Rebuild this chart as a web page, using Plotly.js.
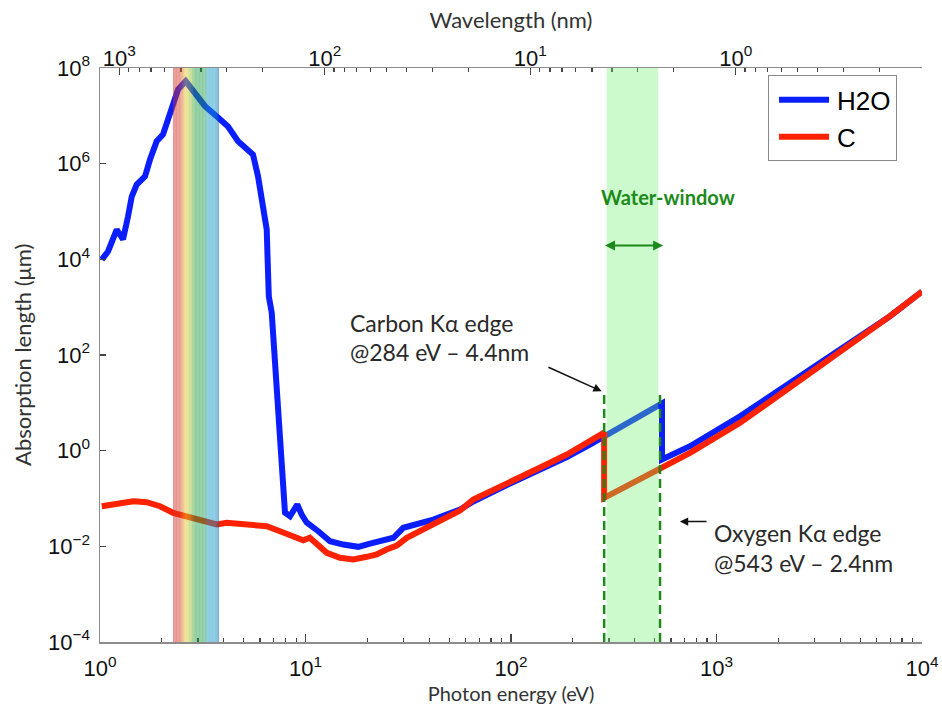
<!DOCTYPE html>
<html>
<head>
<meta charset="utf-8">
<script src="https://cdn.plot.ly/plotly-3.0.1.min.js"></script>
<style>html,body{margin:0;padding:0;background:#fff;}#chart{width:942px;height:709px;}</style>
</head>
<body>
<div id="chart"></div>
<script>
// ---------- data ----------
const h2oEnergy = [1.02, 1.094, 1.206, 1.294, 1.369, 1.427, 1.509, 1.656, 1.751, 1.888, 2.026, 2.112, 2.234, 2.397, 2.612, 2.900, 3.243, 3.752, 4.197, 4.694, 5.175, 5.553, 5.873, 6.212, 6.476, 6.535, 6.63, 6.848, 7.243, 7.515, 7.66, 7.728, 7.946, 8.41, 9.12, 9.58, 10.13, 11.54, 13.16, 15.28, 18.07, 20.6, 23.9, 26.8, 29.9, 34.8, 41.9, 56.5, 65.5, 95.3, 138, 187, 242, 284, 292, 424, 543, 543, 743, 1302, 2279, 3990, 6983, 10000];
const h2oLength = [9.9e3, 1.46e4, 4.2e4, 2.6e4, 7.85e4, 2.06e5, 3.66e5, 5.39e5, 1.22e6, 2.95e6, 4.07e6, 7.26e6, 1.59e7, 3.55e7, 5.3e7, 2.79e7, 1.59e7, 9.23e6, 5.98e6, 2.95e6, 1.98e6, 1.55e6, 5.47e5, 1.54e5, 4.2e4, 1.15e4, 1.67e3, 773, 19.0, 1.98, 0.288, 0.111, 0.0509, 0.0426, 0.0748, 0.0462, 0.0315, 0.0207, 0.0128, 0.0109, 0.00977, 0.0114, 0.0134, 0.0151, 0.0244, 0.0286, 0.0363, 0.0588, 0.0865, 0.191, 0.394, 0.736, 1.34, 1.98, 2.0, 5.25, 9.68, 0.653, 1.24, 5.25, 26.2, 130, 647, 2120];

const cEnergy = [1.02, 1.206, 1.452, 1.688, 1.959, 2.274, 2.642, 3.066, 3.698, 4.136, 5.37, 6.476, 7.515, 8.72, 9.75, 10.5, 11.34, 12.69, 14.72, 17.09, 19.85, 22.2, 24.8, 27.8, 31.1, 36.1, 45.1, 56.5, 65.5, 95.3, 138, 187, 242, 284, 284, 531, 743, 1302, 2279, 3990, 6983, 10000];
const cLength = [0.0689, 0.0748, 0.0877, 0.0836, 0.0689, 0.0501, 0.0414, 0.0352, 0.0286, 0.031, 0.0286, 0.0263, 0.0207, 0.0163, 0.0134, 0.0151, 0.0109, 0.00731, 0.00575, 0.0053, 0.00604, 0.00674, 0.00857, 0.0104, 0.0151, 0.0207, 0.033, 0.056, 0.0953, 0.213, 0.438, 0.83, 1.57, 2.39, 0.103, 0.404, 0.90, 3.82, 20.6, 120, 647, 2120];

const seriesNames = ['H2O', 'C'];

// visible-light band (photon energy, eV) and its colour stops
const visibleBandEnergy = [2.265, 2.451, 2.621, 2.772, 2.900, 3.208, 3.354, 3.668, 3.794];
const visibleBandColors = [[209,41,41],[217,65,45],[235,209,49],[145,189,55],[35,161,75],[35,161,75],[25,155,201],[25,155,201],[1,75,155]];

// water window (eV), absorption-edge markers (eV)
const waterWindowEnergy = [292, 521];
const edgeMarkEnergy = [284, 531];
const edgeMarkTop = 17.3;

// axis ticks
const energyTicks = [1, 10, 100, 1000, 10000];
const energyTickText = ['10<sup>0</sup>', '10<sup>1</sup>', '10<sup>2</sup>', '10<sup>3</sup>', '10<sup>4</sup>'];
const wavelengthTicks = [1000, 100, 10, 1];
const wavelengthTickText = ['10<sup>3</sup>', '10<sup>2</sup>', '10<sup>1</sup>', '10<sup>0</sup>'];
const lengthTicks = [1e-4, 1e-2, 1, 1e2, 1e4, 1e6, 1e8];
const lengthTickText = ['10<sup>−4</sup>', '10<sup>−2</sup>', '10<sup>0</sup>', '10<sup>2</sup>', '10<sup>4</sup>', '10<sup>6</sup>', '10<sup>8</sup>'];

const HC = 1239.84; // eV·nm

// ---------- build ----------
function minorLog(lo, hi) {
  const out = [];
  for (let e = lo; e < hi; e++) for (let m = 2; m <= 9; m++) out.push(m * Math.pow(10, e));
  return out;
}
const L = Math.log10;

const ghost = (xa) => ({x: [10], y: [1], xaxis: xa, yaxis: 'y', mode: 'markers', marker: {opacity: 0},
  showlegend: false, hoverinfo: 'skip'});

const traces = [
  {x: h2oEnergy, y: h2oLength, name: seriesNames[0], type: 'scatter', mode: 'lines',
   line: {color: '#0a1eff', width: 6}},
  {x: cEnergy, y: cLength, name: seriesNames[1], type: 'scatter', mode: 'lines',
   line: {color: '#ff2200', width: 6}},
  ghost('x2'), ghost('x3'), ghost('x4')
];

const shapes = [];
shapes.push({type: 'rect', xref: 'x', yref: 'paper', x0: waterWindowEnergy[0], x1: waterWindowEnergy[1],
  y0: 0, y1: 1, fillcolor: 'rgb(109,241,109)', opacity: 0.35, line: {width: 0}, layer: 'above'});
(function () {
  const l0 = L(visibleBandEnergy[0]);
  const l1 = L(visibleBandEnergy[visibleBandEnergy.length - 1]);
  const N = 60;
  const ls = visibleBandEnergy.map(L);
  for (let i = 0; i < N; i++) {
    const a = l0 + (l1 - l0) * i / N, b = l0 + (l1 - l0) * (i + 1) / N, m = (a + b) / 2;
    let k = 0; while (k < ls.length - 2 && m > ls[k + 1]) k++;
    const t = Math.min(1, Math.max(0, (m - ls[k]) / (ls[k + 1] - ls[k])));
    const c = visibleBandColors[k].map((v, j) => Math.round(v + (visibleBandColors[k + 1][j] - v) * t));
    shapes.push({type: 'rect', xref: 'x', yref: 'paper', x0: Math.pow(10, a), x1: Math.pow(10, b) * 1.001,
      y0: 0, y1: 1, fillcolor: 'rgb(' + c.join(',') + ')', opacity: 0.5, line: {width: 0}, layer: 'above'});
  }
})();
edgeMarkEnergy.forEach(e => shapes.push({type: 'line', xref: 'x', yref: 'y', x0: e, x1: e,
  y0: 1e-4, y1: edgeMarkTop, line: {color: '#1b8a1b', width: 2.5, dash: '9px,5px'}, layer: 'above'}));

const txtFont = {family: 'Lato, "Open Sans", sans-serif', size: 23, color: '#2a2a2a'};
const titleFont = {family: 'Lato, "Open Sans", sans-serif', size: 22, color: '#333'};
const annotations = [
  {xref: 'x', yref: 'y', x: 2.764, y: 5.313, text: '<b>Water-window</b>', showarrow: false,
   xanchor: 'center', yanchor: 'middle', font: {family: 'Lato, sans-serif', size: 20, color: '#1b8a1b'}},
  {xref: 'x', yref: 'y', axref: 'x', ayref: 'y', x: L(550), y: 4.29, ax: L(282), ay: 4.29, text: '',
   showarrow: true, arrowside: 'end+start', arrowhead: 2, startarrowhead: 2, arrowsize: 1, startarrowsize: 1,
   arrowwidth: 2, arrowcolor: '#1b8a1b'},
  {xref: 'x', yref: 'y', x: 1.2068, y: 2.679, text: 'Carbon Kα edge', showarrow: false, xanchor: 'left', yanchor: 'middle', font: txtFont},
  {xref: 'x', yref: 'y', x: 1.2068, y: 2.062, text: '@284 eV – 4.4nm', showarrow: false, xanchor: 'left', yanchor: 'middle', font: txtFont},
  {xref: 'x', yref: 'y', axref: 'x', ayref: 'y', x: 2.441, y: 1.243, ax: 2.175, ay: 1.759, text: '',
   showarrow: true, arrowhead: 2, arrowsize: 1.1, arrowwidth: 1.5, arrowcolor: '#111'},
  {xref: 'x', yref: 'y', x: 2.978, y: -1.711, text: 'Oxygen Kα edge', showarrow: false, xanchor: 'left', yanchor: 'middle', font: txtFont},
  {xref: 'x', yref: 'y', x: 2.978, y: -2.339, text: '@543 eV – 2.4nm', showarrow: false, xanchor: 'left', yanchor: 'middle', font: txtFont},
  {xref: 'x', yref: 'y', axref: 'x', ayref: 'y', x: 2.822, y: -1.481, ax: 2.9586, ay: -1.481, text: '',
   showarrow: true, arrowhead: 2, arrowsize: 1.1, arrowwidth: 1.5, arrowcolor: '#111'},
  // y-axis title placed as in the reference
  {xref: 'paper', yref: 'paper', x: -0.095, y: 0.5, text: 'Absorption length (μm)', textangle: -90, showarrow: false,
   xanchor: 'center', yanchor: 'middle', font: titleFont}
];

const tickFont = {family: '"Liberation Sans", Arial, sans-serif', size: 22, color: '#111'};
const axisCommon = {showgrid: false, zeroline: false, showline: true, linecolor: '#8c8c8c', linewidth: 1.5,
  ticks: 'inside', tickcolor: '#444', tickwidth: 1.2, tickfont: tickFont};
const minorAxis = {showgrid: false, zeroline: false, showline: false, ticks: 'inside', ticklen: 4,
  tickcolor: '#444', tickwidth: 1.2, showticklabels: false, tickmode: 'array', type: 'log', overlaying: 'x', anchor: 'y'};

const layout = {
  width: 942, height: 709,
  margin: {l: 100, r: 20, t: 68, b: 67},
  paper_bgcolor: '#fff', plot_bgcolor: '#fff',
  showlegend: true,
  legend: {x: 0.8127, y: 0.987, xanchor: 'left', yanchor: 'top', bgcolor: '#fff', bordercolor: '#888', borderwidth: 1,
    font: {family: '"Liberation Sans", Arial, sans-serif', size: 26, color: '#000'}, itemwidth: 58, tracegroupgap: 0},
  xaxis: Object.assign({}, axisCommon, {type: 'log', range: [0, 4], tickmode: 'array', tickvals: energyTicks, ticktext: energyTickText,
    ticklen: 8, ticklabelstandoff: 6,
    title: {text: 'Photon energy (eV)', font: Object.assign({}, titleFont, {size: 20}), standoff: 0}}),
  xaxis2: Object.assign({}, axisCommon, {type: 'log', overlaying: 'x', side: 'top', anchor: 'y',
    range: [L(HC / 1), L(HC / 10000)], tickmode: 'array', tickvals: wavelengthTicks, ticktext: wavelengthTickText,
    ticklen: 7, ticklabelstandoff: -8,
    title: {text: 'Wavelength (nm)', font: titleFont, standoff: 8}}),
  xaxis3: Object.assign({}, minorAxis, {side: 'bottom', range: [0, 4], tickvals: minorLog(0, 4)}),
  xaxis4: Object.assign({}, minorAxis, {side: 'top', range: [L(HC / 1), L(HC / 10000)], tickvals: minorLog(-1, 3)}),
  yaxis: Object.assign({}, axisCommon, {type: 'log', range: [-4, 8], tickmode: 'array', tickvals: lengthTicks, ticktext: lengthTickText,
    ticklen: 6, ticklabelstandoff: 4}),
  shapes: shapes,
  annotations: annotations
};

Plotly.newPlot('chart', traces, layout, {staticPlot: true}).then(function (gd) {
  // lengthen the legend line samples to match the reference
  gd.querySelectorAll('.legend .legendlines path').forEach(p => p.setAttribute('d', 'M10,0h50'));
});
</script>
</body>
</html>
